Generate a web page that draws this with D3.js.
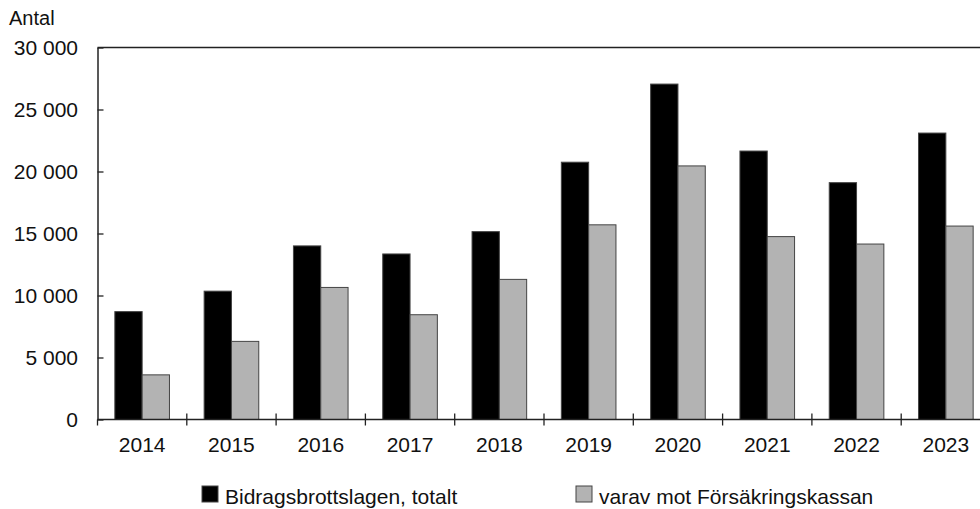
<!DOCTYPE html>
<html>
<head>
<meta charset="utf-8">
<script src="https://cdn.jsdelivr.net/npm/d3@7"></script>
<style>
  body { margin: 0; background: #fff; }
  svg text { font-family: "Liberation Sans", Arial, sans-serif; fill: #111; }
</style>
</head>
<body>
<div id="chart"></div>
<script>
var years = ["2014", "2015", "2016", "2017", "2018", "2019", "2020", "2021", "2022", "2023"];
var totalt = [8700, 10350, 14000, 13350, 15150, 20750, 27050, 21650, 19100, 23100];
var varav = [3600, 6300, 10650, 8450, 11300, 15700, 20450, 14750, 14150, 15600];
var seriesNames = ["Bidragsbrottslagen, totalt", "varav mot Försäkringskassan"];
var seriesColors = ["#000000", "#b3b3b3"];
var yTicks = [0, 5000, 10000, 15000, 20000, 25000, 30000];

function drawChart() {
  var width = 980, height = 509;
  var plotLeft = 97.5, plotTop = 47.5, plotBottom = 419.5, plotRight = 990.5;
  var fs = "21px";

  var svg = d3.select("#chart").append("svg")
    .attr("width", width)
    .attr("height", height);

  var x = d3.scaleBand().domain(years).range([plotLeft, plotRight]);
  var x1 = d3.scaleBand().domain([0, 1]).range([0, x.bandwidth()]).paddingOuter(0.635);
  var y = d3.scaleLinear().domain([0, 30000]).range([plotBottom, plotTop]);

  var fmt = function(d) { return d3.format(",")(d).replace(",", " "); };

  /* bars */
  var data = years.map(function(yr, i) { return { year: yr, vals: [totalt[i], varav[i]] }; });
  var grp = svg.append("g").selectAll("g")
    .data(data).enter().append("g")
    .attr("transform", function(d) { return "translate(" + x(d.year) + ",0)"; });
  grp.selectAll("rect")
    .data(function(d) { return d.vals.map(function(v, k) { return { k: k, v: v }; }); })
    .enter().append("rect")
    .attr("x", function(d) { return x1(d.k); })
    .attr("width", x1.bandwidth())
    .attr("y", function(d) { return y(d.v); })
    .attr("height", function(d) { return plotBottom - y(d.v); })
    .attr("fill", function(d) { return seriesColors[d.k]; })
    .attr("stroke", "#444")
    .attr("stroke-width", 1);

  /* top frame line */
  svg.append("line").attr("x1", plotLeft).attr("x2", plotRight).attr("y1", plotTop).attr("y2", plotTop)
    .attr("stroke", "#222").attr("stroke-width", 1.5);

  /* y axis, ticks pointing inward */
  var yAxis = d3.axisLeft(y).tickValues(yTicks).tickSizeInner(-6).tickSizeOuter(0).tickFormat(function() { return ""; });
  var ya = svg.append("g").attr("transform", "translate(" + plotLeft + ",0)").call(yAxis);
  ya.select(".domain").attr("stroke", "#222").attr("stroke-width", 1.5);
  ya.selectAll(".tick line").attr("stroke", "#222").attr("stroke-width", 1.3);
  svg.append("g").selectAll("text")
    .data(yTicks).enter().append("text")
    .attr("x", 78)
    .attr("y", function(d) { return y(d); })
    .attr("dy", "0.36em")
    .attr("text-anchor", "end")
    .style("font-size", fs)
    .text(fmt);

  /* x axis with ticks between categories */
  svg.append("line").attr("x1", plotLeft).attr("x2", plotRight).attr("y1", plotBottom).attr("y2", plotBottom)
    .attr("stroke", "#222").attr("stroke-width", 1.5);
  var bounds = years.map(function(d) { return x(d); });
  svg.append("g").selectAll("line")
    .data(bounds).enter().append("line")
    .attr("x1", function(d) { return d; }).attr("x2", function(d) { return d; })
    .attr("y1", function(d, i) { return i === 0 ? plotBottom : plotBottom - 6; })
    .attr("y2", plotBottom + 6)
    .attr("stroke", "#222").attr("stroke-width", 1.3);
  svg.append("g").selectAll("text")
    .data(years).enter().append("text")
    .attr("x", function(d) { return x(d) + x.bandwidth() / 2; })
    .attr("y", 452)
    .attr("text-anchor", "middle")
    .style("font-size", fs)
    .text(function(d) { return d; });

  /* axis title */
  svg.append("text").attr("x", 9).attr("y", 25).style("font-size", "20px").text("Antal");

  /* legend */
  var legX = [202, 576];
  var leg = svg.append("g").selectAll("g")
    .data(seriesNames).enter().append("g")
    .attr("transform", function(d, i) { return "translate(" + legX[i] + ",486)"; });
  leg.append("rect")
    .attr("width", 16).attr("height", 16)
    .attr("fill", function(d, i) { return seriesColors[i]; })
    .attr("stroke", "#444").attr("stroke-width", 1);
  leg.append("text")
    .attr("x", 23).attr("y", 17.5)
    .style("font-size", fs)
    .text(function(d) { return d; });
}

drawChart();
</script>
</body>
</html>
